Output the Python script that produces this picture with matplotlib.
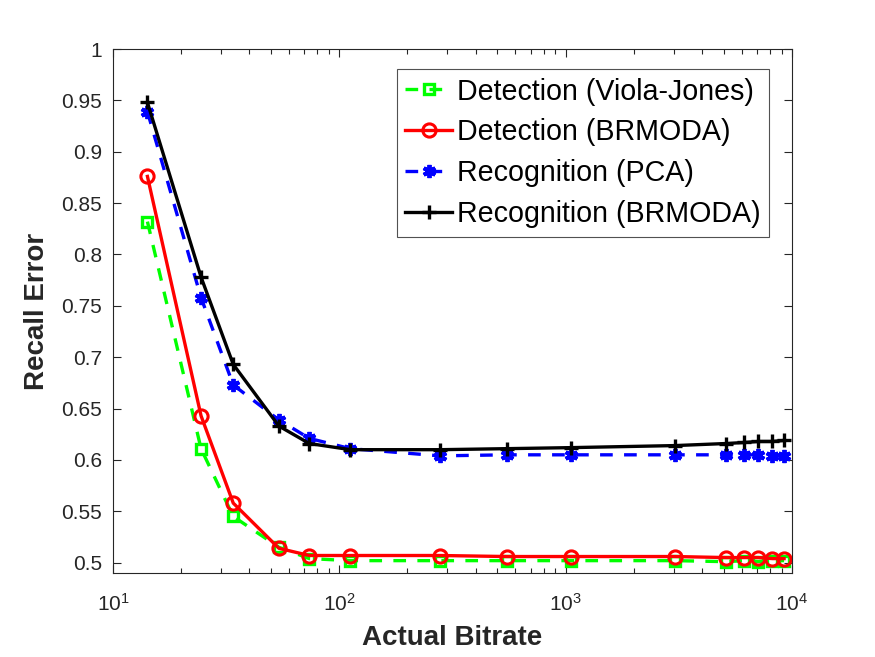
#!/usr/bin/env python3
"""Recall error against actual bitrate for detection and recognition."""

import matplotlib

matplotlib.use("Agg")
import matplotlib.pyplot as plt
from matplotlib.ticker import FixedLocator, LogLocator, NullFormatter

plt.rcParams["font.family"] = ["Liberation Sans", "DejaVu Sans"]
plt.rcParams["mathtext.fontset"] = "custom"
plt.rcParams["mathtext.rm"] = "Liberation Sans"

bitrate = [14.2, 24.5, 34.0, 54.1, 73.7, 112, 279, 549, 1053,
           3044, 5100, 6160, 7100, 8190, 9230]

viola_jones = [0.832, 0.611, 0.545, 0.515, 0.504, 0.502, 0.502, 0.502, 0.502,
               0.502, 0.501, 0.502, 0.501, 0.502, 0.502]
detection_brmoda = [0.876, 0.643, 0.558, 0.514, 0.507, 0.507, 0.507, 0.506,
                    0.506, 0.506, 0.505, 0.505, 0.505, 0.504, 0.504]
recognition_pca = [0.939, 0.758, 0.673, 0.639, 0.621, 0.611, 0.604, 0.605,
                   0.605, 0.605, 0.605, 0.605, 0.605, 0.604, 0.604]
recognition_brmoda = [0.948, 0.778, 0.693, 0.633, 0.616, 0.610, 0.610, 0.611,
                      0.612, 0.614, 0.616, 0.617, 0.618, 0.618, 0.619]

labels = ["Detection (Viola-Jones)", "Detection (BRMODA)",
          "Recognition (PCA)", "Recognition (BRMODA)"]
y_ticks = [0.5, 0.55, 0.6, 0.65, 0.7, 0.75, 0.8, 0.85, 0.9, 0.95, 1.0]
y_tick_labels = ["0.5", "0.55", "0.6", "0.65", "0.7", "0.75", "0.8",
                 "0.85", "0.9", "0.95", "1"]

asterisk = (6, 2, 0)
dashed = (0, (3.8, 3.4))
fig = plt.figure(figsize=(8.75, 6.57), dpi=100)
ax = fig.add_axes([0.1291, 0.1279, 0.7760, 0.7975])

lw = 2.4
ax.plot(bitrate, viola_jones, color="#00ff00", linestyle=dashed, lw=lw,
        marker="s", ms=7.5, mfc="none", mew=2.4, label=labels[0])
ax.plot(bitrate, detection_brmoda, color="#ff0000", linestyle="-", lw=lw,
        marker="o", ms=9.5, mfc="none", mew=2.2, label=labels[1])
ax.plot(bitrate, recognition_pca, color="#0000ff", linestyle=dashed, lw=lw,
        marker=asterisk, ms=9.5, mew=2.8, label=labels[2])
ax.plot(bitrate, recognition_brmoda, color="#000000", linestyle="-", lw=lw,
        marker="+", ms=10.5, mew=2.4, label=labels[3])

ax.set_xscale("log")
ax.set_xlim(10, 1e4)
ax.set_ylim(0.49, 1.0)
ax.yaxis.set_major_locator(FixedLocator(y_ticks))
ax.set_yticklabels(y_tick_labels)
ax.xaxis.set_major_locator(LogLocator(base=10, numticks=10))
ax.xaxis.set_minor_locator(LogLocator(base=10, subs=range(2, 10), numticks=10))
ax.xaxis.set_minor_formatter(NullFormatter())

text_color = "#262626"
for spine in ax.spines.values():
    spine.set_color(text_color)
    spine.set_linewidth(0.8)
ax.tick_params(which="both", direction="in", top=True, right=True,
               colors=text_color, labelsize=15, width=0.8)
ax.tick_params(which="major", length=6, pad=8)
ax.tick_params(which="minor", length=3.5)
ax.tick_params(axis="x", which="major", pad=14)

ax.set_xlabel("Actual Bitrate", fontsize=20, fontweight="bold",
              color=text_color, labelpad=8)
ax.set_ylabel("Recall Error", fontsize=20, fontweight="bold",
              color=text_color, labelpad=8)

legend = ax.legend(loc="upper right", bbox_to_anchor=(0.966, 0.962),
                   fontsize=20.6, frameon=True, fancybox=False,
                   edgecolor=text_color, handlelength=1.65, handletextpad=0.15,
                   labelspacing=0.45, borderpad=0.3, borderaxespad=0.0)
legend.get_frame().set_linewidth(0.8)

fig.savefig("out.png", dpi=100)
